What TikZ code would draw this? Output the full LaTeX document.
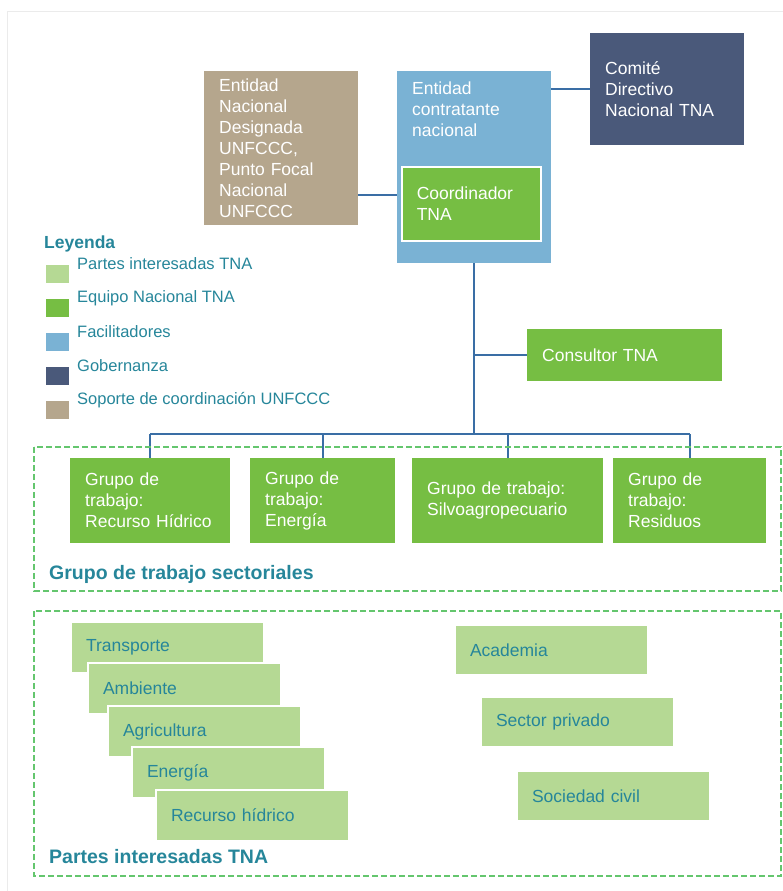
\documentclass[tikz,border=0pt]{standalone}
\usepackage{fontspec}
\setmainfont{Liberation Sans}
\usepackage{tikz}
\usetikzlibrary{positioning}
\definecolor{soporte}{RGB}{181,166,141}
\definecolor{facil}{RGB}{122,178,212}
\definecolor{gober}{RGB}{74,89,122}
\definecolor{equipo}{RGB}{118,190,67}
\definecolor{partes}{RGB}{181,217,148}
\definecolor{txtteal}{RGB}{38,134,154}
\definecolor{linea}{RGB}{58,110,165}
\definecolor{marco}{RGB}{100,198,110}
\newcommand\boxfont{\fontsize{17.5}{21}\selectfont}
\newcommand\legfont{\fontsize{16.5}{20}\selectfont}
\newcommand\titfont{\bfseries\fontsize{19.5}{23}\selectfont}

\begin{document}
\begin{tikzpicture}[x=1pt,y=-1pt,font=\boxfont]
\tikzstyle{unit}=[rectangle,anchor=north west,inner xsep=15pt,inner ysep=0pt,align=left,text=white]
\tikzstyle{grupo}=[unit,fill=equipo,minimum height=85pt]
\tikzstyle{parte}=[unit,fill=partes,draw=white,line width=2pt,text=txtteal,text width=163pt,minimum height=51pt]
\tikzstyle{conn}=[draw=linea,line width=2pt]
\tikzstyle{frame}=[draw=marco,line width=1.6pt,dash pattern=on 6pt off 3pt]
\tikzstyle{sq}=[rectangle,minimum width=24pt,minimum height=19pt,inner sep=0pt,draw=white,line width=1pt]
\tikzstyle{leg}=[anchor=west,inner sep=0pt,text=txtteal,font=\legfont]
\tikzstyle{tit}=[anchor=west,inner sep=0pt,text=txtteal,font=\titfont]
\useasboundingbox (0,0) rectangle (783,891);
\draw[black!8,line width=1pt] (7,891) -- (7,12) -- (783,12);

\node[unit,fill=soporte,text width=124pt,minimum height=154pt] (end) at (204,71) {Entidad\\Nacional\\Designada\\UNFCCC,\\Punto Focal\\Nacional\\UNFCCC};
\node[unit,fill=facil,inner ysep=11pt] (ent) at (397,71) {\parbox[t][170pt][t]{124pt}{Entidad\\contratante\\nacional}};
\node[unit,fill=equipo,draw=white,line width=1.5pt,text width=109pt,minimum height=74pt] (coord) at (401,166) {Coordinador\\TNA};
\node[unit,fill=gober,text width=124pt,minimum height=112pt] (cdn) at (590,33) {Comité\\Directivo\\Nacional TNA};
\node[unit,fill=equipo,text width=165pt,minimum height=52pt] (cons) at (527,329) {Consultor TNA};

\node[grupo,text width=130pt] (g1) at (70,458) {Grupo de\\trabajo:\\Recurso Hídrico};
\node[grupo,text width=115pt] (g2) at (250,458) {Grupo de\\trabajo:\\Energía};
\node[grupo,text width=161pt] (g3) at (412,458) {Grupo de trabajo:\\Silvoagropecuario};
\node[grupo,text width=123pt] (g4) at (613,458) {Grupo de\\trabajo:\\Residuos};

\coordinate (tanlink) at (358,195);
\coordinate (bus) at (474,434);
\path[conn] (cdn.west -| ent.east) edge (cdn.west)
            (tanlink) edge (tanlink -| ent.west)
            (ent.south) edge (ent.south |- bus)
            (cons.west -| ent.south) edge (cons.west)
            (g1.north |- bus) edge (g4.north |- bus)
            (g1.north |- bus) edge (g1.north)
            (g2.north |- bus) edge (g2.north)
            (g3.north |- bus) edge (g3.north)
            (g4.north |- bus) edge (g4.north);

\node[tit,font=\bfseries\fontsize{17.5}{21}\selectfont] (ley) at (44,244) {Leyenda};
\node[sq,anchor=north west,fill=partes] (s1) at (45,264) {};
\node[sq,fill=equipo,below=14pt of s1] (s2) {};
\node[sq,fill=facil,below=14pt of s2] (s3) {};
\node[sq,fill=gober,below=14pt of s3] (s4) {};
\node[sq,fill=soporte,below=14pt of s4] (s5) {};
\node[leg,right=7pt of s1.north east] (l1) {Partes interesadas TNA};
\node[leg,right=7pt of s2.north east] (l2) {Equipo Nacional TNA};
\node[leg,right=7pt of s3.north east] (l3) {Facilitadores};
\node[leg,right=7pt of s4.north east] (l4) {Gobernanza};
\node[leg,right=7pt of s5.north east] (l5) {Soporte de coordinación UNFCCC};

\draw[frame] (34,447) rectangle (781,591);
\node[tit] (sect) at (49,574) {Grupo de trabajo sectoriales};
\draw[frame] (34,611) rectangle (781,876);
\node[tit] (pint) at (49,857) {Partes interesadas TNA};

\node[parte] (p1) at (70,621) {Transporte};
\node[parte] (p2) at (87,662) {Ambiente};
\node[parte] (p3) at (107,705) {Agricultura};
\node[parte] (p4) at (131,746) {Energía};
\node[parte] (p5) at (155,789) {Recurso hídrico};
\node[parte,minimum height=50pt] (acad) at (454,624) {Academia};
\node[parte,minimum height=50pt] (priv) at (480,696) {Sector privado};
\node[parte,minimum height=50pt] (civil) at (516,770) {Sociedad civil};
\end{tikzpicture}
\end{document}
